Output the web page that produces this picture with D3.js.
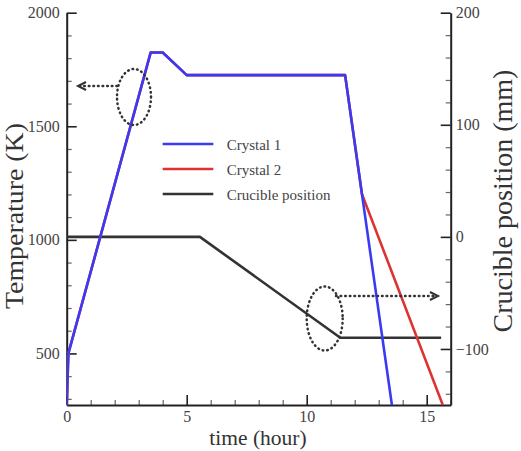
<!DOCTYPE html>
<html><head><meta charset="utf-8">
<script src="https://cdn.jsdelivr.net/npm/d3@7"></script>
<style>
html,body{margin:0;padding:0;background:#fff;}
svg{display:block;}
</style></head>
<body>
<svg id="chart" width="521" height="451"></svg>
<script>
// ---- data ----
const crystal1Time = [0, 0.07, 3.5, 4.0, 5.0, 11.6, 13.55];
const crystal1Temp = [273, 500, 1825, 1825, 1725, 1725, 273];
const crystal2Time = [0, 0.07, 3.5, 4.0, 5.0, 11.6, 12.3, 15.67];
const crystal2Temp = [273, 500, 1825, 1825, 1725, 1725, 1202, 273];
const crucibleTime = [0, 5.55, 11.4, 15.6];
const cruciblePos  = [0, 0, -90, -90];
const xTicks = [0, 5, 10, 15];
const yLeftTicks = [500, 1000, 1500, 2000];
const yRightTicks = [-100, 0, 100, 200];
const legendLabels = ["Crystal 1", "Crystal 2", "Crucible position"];
const legendColors = ["#3a3af5", "#dd3333", "#333333"];

const SERIF = "Liberation Serif, Times New Roman, serif";

// ---- layout ----
const svg = d3.select("#chart").attr("font-family", SERIF);
const x = d3.scaleLinear().domain([0, 16]).range([66.7, 450.7]);
const yL = d3.scaleLinear().domain([273, 2000]).range([405, 12.7]);
const yR = d3.scaleLinear().domain([-150, 200]).range([405, 12.7]);

const axisColor = "#222";
function styleAxis(g, fs) {
  g.attr("font-family", SERIF).attr("font-size", fs);
  g.selectAll(".domain").attr("stroke", axisColor).attr("stroke-width", 2);
  g.selectAll(".tick line").attr("stroke", axisColor).attr("stroke-width", 1.6);
  g.selectAll(".tick text").attr("fill", "#444").attr("font-family", SERIF).attr("font-size", fs);
}

// minor ticks
const minorX = d3.range(0, 17, 1).filter(v => v % 5 !== 0);
const minorYL = d3.range(300, 2001, 100).filter(v => v % 500 !== 0);
const minorYR = d3.range(-140, 201, 20).filter(v => v % 100 !== 0);
const minorStyle = g => { g.select(".domain").remove(); g.selectAll(".tick line").attr("stroke", "#666").attr("stroke-width", 1.2); };

svg.append("g").attr("transform", "translate(0,405)")
  .call(d3.axisBottom(x).tickValues(minorX).tickFormat("").tickSizeInner(-5).tickSizeOuter(0)).call(minorStyle);
svg.append("g").attr("transform", "translate(66.7,0)")
  .call(d3.axisLeft(yL).tickValues(minorYL).tickFormat("").tickSizeInner(-5).tickSizeOuter(0)).call(minorStyle);
svg.append("g").attr("transform", "translate(450.7,0)")
  .call(d3.axisRight(yR).tickValues(minorYR).tickFormat("").tickSizeInner(-5).tickSizeOuter(0)).call(minorStyle);

// major axes
svg.append("g").attr("transform", "translate(0,405)")
  .call(d3.axisBottom(x).tickValues(xTicks).tickFormat(d3.format("d")).tickSizeInner(-10).tickSizeOuter(0).tickPadding(6))
  .call(g => styleAxis(g, 16));
svg.append("g").attr("transform", "translate(66.7,0)")
  .call(d3.axisLeft(yL).tickValues(yLeftTicks).tickFormat(d3.format("d")).tickSizeInner(-10).tickSizeOuter(0).tickPadding(7))
  .call(g => styleAxis(g, 16));
svg.append("g").attr("transform", "translate(450.7,0)")
  .call(d3.axisRight(yR).tickValues(yRightTicks).tickFormat(d3.format("d")).tickSizeInner(-10).tickSizeOuter(0).tickPadding(5))
  .call(g => styleAxis(g, 16));

// ---- clip ----
svg.append("clipPath").attr("id", "plotclip").append("rect")
  .attr("x", x(0)).attr("y", yL(2000)).attr("width", x(16) - x(0)).attr("height", yL(273) - yL(2000));

const plot = svg.append("g").attr("clip-path", "url(#plotclip)");
const lineL = d3.line().x(d => x(d[0])).y(d => yL(d[1]));
const lineR = d3.line().x(d => x(d[0])).y(d => yR(d[1]));

plot.append("path").datum(d3.zip(crucibleTime, cruciblePos)).attr("d", lineR)
  .attr("fill", "none").attr("stroke", legendColors[2]).attr("stroke-width", 2.6).attr("stroke-linejoin", "round");
plot.append("path").datum(d3.zip(crystal2Time, crystal2Temp)).attr("d", lineL)
  .attr("fill", "none").attr("stroke", legendColors[1]).attr("stroke-width", 2.6).attr("stroke-linejoin", "round");
plot.append("path").datum(d3.zip(crystal1Time, crystal1Temp)).attr("d", lineL)
  .attr("fill", "none").attr("stroke", legendColors[0]).attr("stroke-width", 2.6).attr("stroke-linejoin", "round");

// ---- annotations ----
const dot = g => g.attr("fill", "none").attr("stroke", "#333").attr("stroke-width", 2.5)
  .attr("stroke-dasharray", "0.6 4").attr("stroke-linecap", "round");
svg.append("ellipse").attr("cx", 134).attr("cy", 97).attr("rx", 17).attr("ry", 28).call(dot);
svg.append("line").attr("x1", 117).attr("y1", 86).attr("x2", 80).attr("y2", 86).call(dot);
svg.append("path").attr("d", "M86,82 L78,86 L86,90").attr("fill", "none").attr("stroke", "#333").attr("stroke-width", 2);

svg.append("ellipse").attr("cx", 324.7).attr("cy", 318.5).attr("rx", 18).attr("ry", 32).call(dot);
svg.append("line").attr("x1", 336).attr("y1", 296).attr("x2", 434).attr("y2", 296).call(dot);
svg.append("path").attr("d", "M430,292 L438,296 L430,300").attr("fill", "none").attr("stroke", "#333").attr("stroke-width", 2);

// ---- legend ----
const legend = svg.append("g");
legendLabels.forEach((lab, i) => {
  const yy = 144 + i * 25;
  legend.append("line").attr("x1", 162.7).attr("x2", 213.3).attr("y1", yy).attr("y2", yy)
    .attr("stroke", legendColors[i]).attr("stroke-width", 2.4);
  legend.append("text").attr("x", 226.7).attr("y", yy + 6).text(lab)
    .attr("fill", "#444").attr("font-family", SERIF).attr("font-size", 15);
});

// ---- axis titles ----
svg.append("text").attr("transform", "translate(22.5,216) rotate(-90)").attr("text-anchor", "middle")
  .attr("fill", "#333").attr("font-family", SERIF).attr("font-size", 25)
  .attr("textLength", 186).attr("lengthAdjust", "spacingAndGlyphs").text("Temperature (K)");
svg.append("text").attr("transform", "translate(512,201) rotate(-90)").attr("text-anchor", "middle")
  .attr("fill", "#333").attr("font-family", SERIF).attr("font-size", 28).text("Crucible position (mm)");
svg.append("text").attr("x", 258).attr("y", 445).attr("text-anchor", "middle")
  .attr("fill", "#333").attr("font-family", SERIF).attr("font-size", 21.5).text("time (hour)");
</script>
</body></html>
